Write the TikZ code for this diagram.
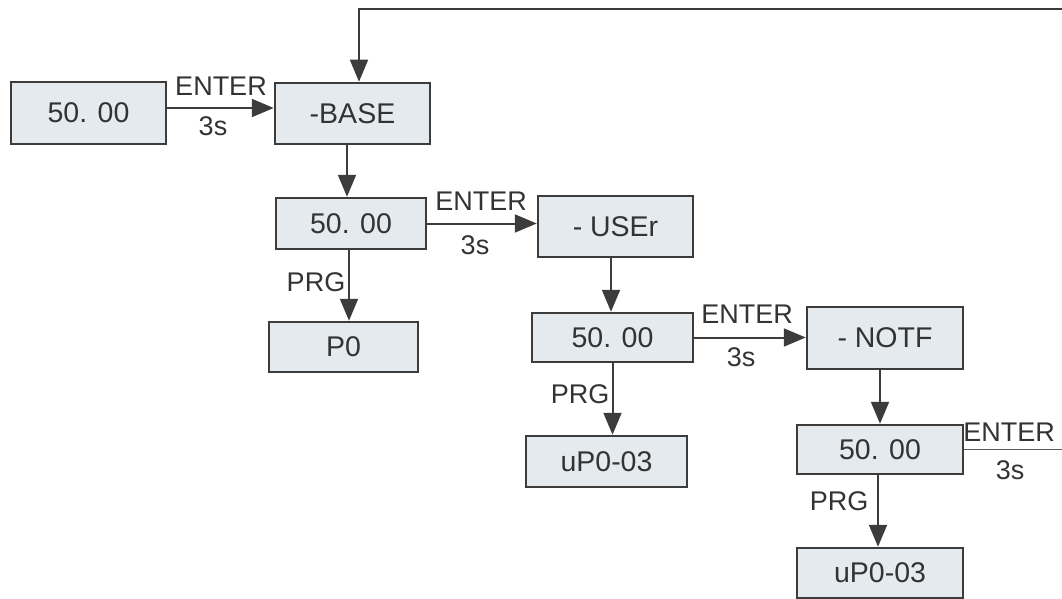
\documentclass[tikz,border=0pt]{standalone}
\usepackage{fontspec}
\setmainfont{Liberation Sans}
\usetikzlibrary{arrows.meta,calc}
\definecolor{boxfill}{HTML}{E4EAEE}
\definecolor{ink}{HTML}{333333}
\definecolor{linec}{HTML}{3C3C3C}
\tikzset{
  stbox/.style={draw=linec,line width=2.5pt,fill=boxfill,inner sep=0pt,
    font=\fontsize{28.5}{31}\selectfont,text=ink},
  lbl/.style={inner sep=0pt,font=\fontsize{27}{30}\selectfont,text=ink},
  arr/.style={draw=linec,line width=2pt,-{Triangle[length=22pt,width=18pt]}},
  plain/.style={draw=linec!85,line width=1.6pt}
}
\begin{document}
\begin{tikzpicture}[x=1pt,y=-1pt]
\useasboundingbox (0,0) rectangle (1062,599);
\node[stbox,minimum width=155pt,minimum height=62pt] (A) at (88.5,113) {50. 00};
\node[stbox,minimum width=155pt,minimum height=61pt] (B) at (352.5,113.5) {-BASE};
\node[stbox,minimum width=150pt,minimum height=51pt] (C) at (351,223.5) {50. 00};
\node[stbox,minimum width=149pt,minimum height=50pt] (P) at (343.5,347) {P0};
\node[stbox,minimum width=155pt,minimum height=61pt] (D) at (615.5,226.5) {- USEr};
\node[stbox,minimum width=161pt,minimum height=49pt] (E) at (612.5,337.5) {50. 00};
\node[stbox,minimum width=156pt,minimum height=62pt] (F) at (885,338) {- NOTF};
\node[stbox,minimum width=161pt,minimum height=51pt] (G) at (606.5,461.5) {uP0-03};
\node[stbox,minimum width=166pt,minimum height=49pt] (H) at (880,449.5) {50. 00};
\node[stbox,minimum width=166pt,minimum height=50pt] (I) at (880,573) {uP0-03};
\coordinate (R0) at (1062,9);
\coordinate (R1) at (1062,451);
% connectors
\draw[arr] ([yshift=5pt]A.east) -- ([yshift=5pt]A.east -| B.west);
\draw[arr] ([xshift=-5.5pt]B.south) -- ([xshift=-5.5pt]B.south |- C.north);
\draw[arr] (C.east) -- (C.east -| D.west);
\draw[arr] ([xshift=-2pt]C.south) -- ([xshift=-2pt]C.south |- P.north);
\draw[arr] ([xshift=-4.5pt]D.south) -- ([xshift=-4.5pt]D.south |- E.north);
\draw[arr] (E.east) -- (E.east -| F.west);
\draw[arr] (E.south) -- (E.south |- G.north);
\draw[arr] (H.north |- F.south) -- (H.north);
\draw[arr] ([xshift=-2pt]H.south) -- ([xshift=-2pt]H.south |- I.north);
\draw[plain] (H.east) -- (H.east -| R1);
\draw[arr,line width=1.6pt] (R0) -| ([xshift=6.5pt]B.north);
% labels
\node[lbl] (l1) at (221,86) {ENTER};
\node[lbl] (l2) at (213,126) {3s};
\node[lbl] (l3) at (481,201) {ENTER};
\node[lbl] (l4) at (475,245) {3s};
\node[lbl] (l5) at (316,282) {PRG};
\node[lbl] (l6) at (747,314) {ENTER};
\node[lbl] (l7) at (741,357) {3s};
\node[lbl] (l8) at (580,394) {PRG};
\node[lbl] (l9) at (1009,432) {ENTER};
\node[lbl] (l10) at (1010,470) {3s};
\node[lbl] (l11) at (839,501) {PRG};
\end{tikzpicture}
\end{document}
